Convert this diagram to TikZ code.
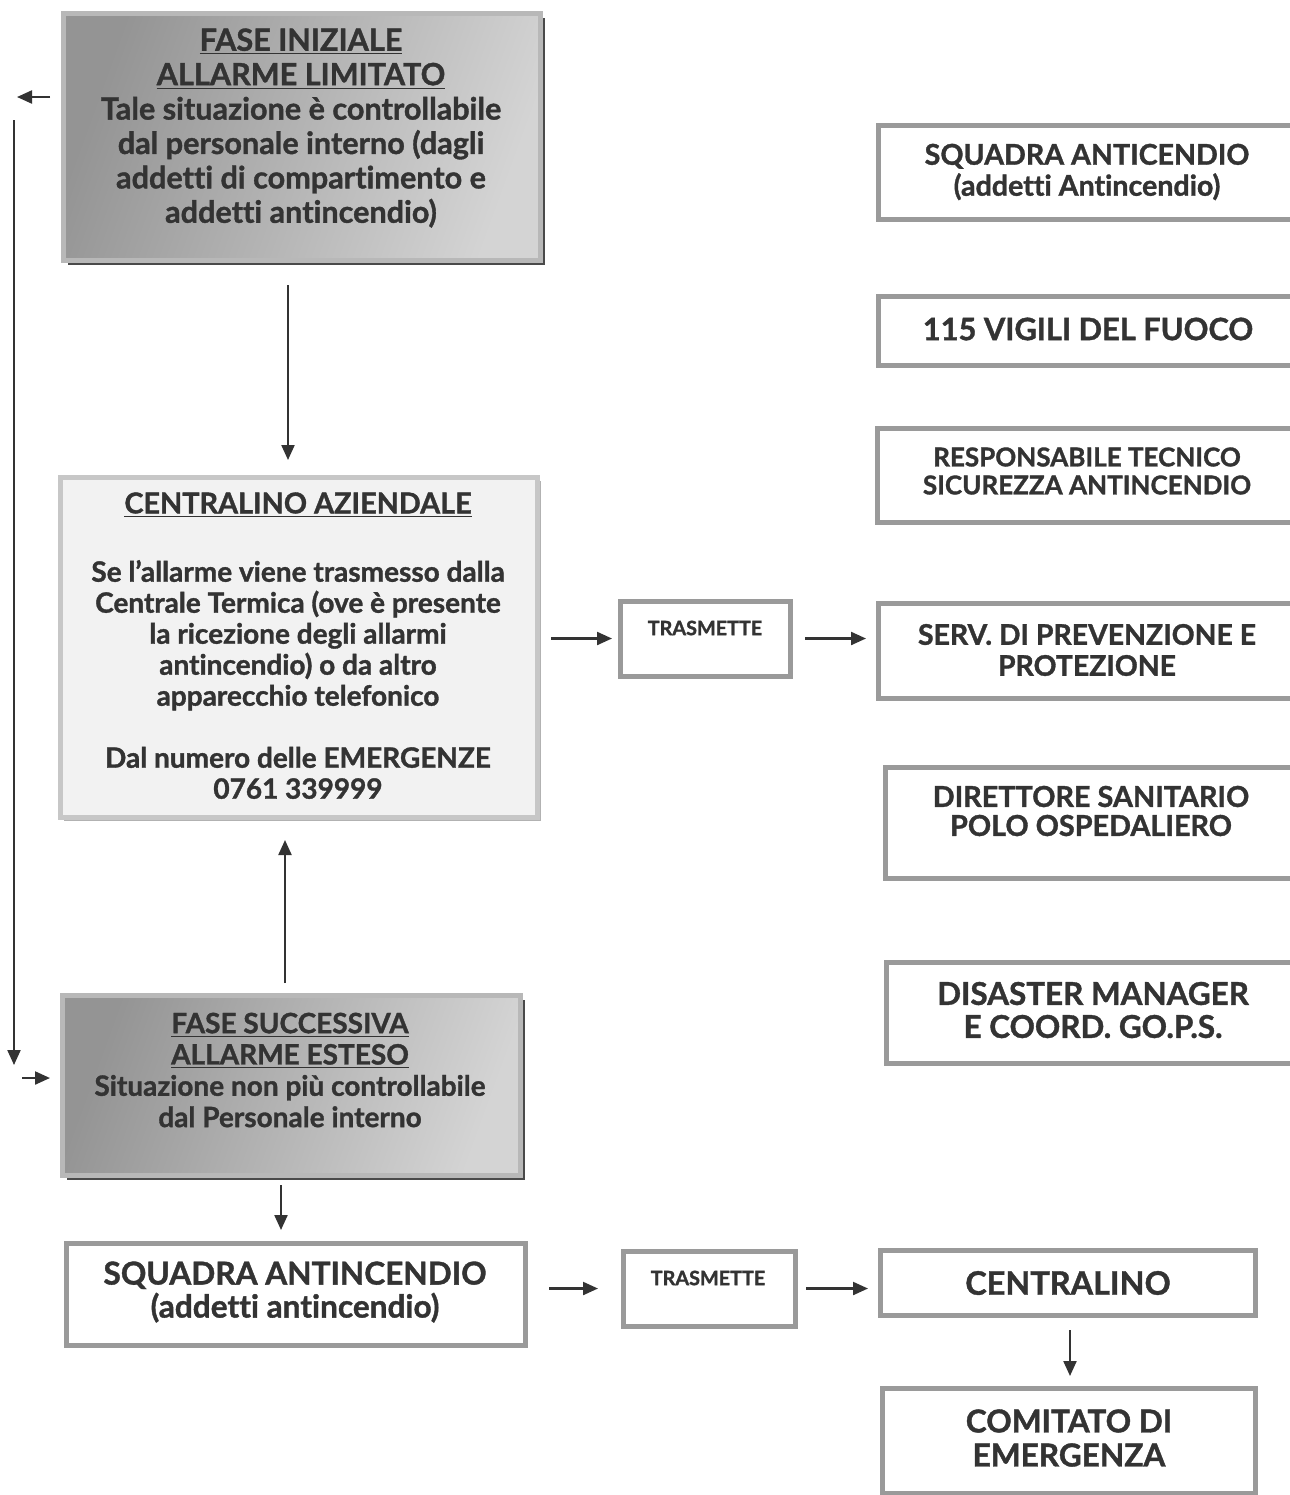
\documentclass[tikz,border=0pt]{standalone}
\usepackage{fontspec}
\setmainfont{Lato}[Ligatures={NoCommon,NoRequired,NoContextual}, BoldFeatures={FakeBold=1.2}]
\usetikzlibrary{arrows.meta,fit,shadows}
\definecolor{txt}{HTML}{333333}
\definecolor{bord}{HTML}{9A9A9A}
\definecolor{shad}{HTML}{4A4A4A}
\tikzset{
  boxbase/.style={inner sep=0pt, outer sep=0pt, line width=2.5pt, draw=bord},
  phase/.style={boxbase, draw=black!28, left color=black!42, right color=black!17, shading angle=70,
     general shadow={fill=shad, shadow xshift=2.4pt, shadow yshift=-2.4pt}},
  lightbox/.style={boxbase, draw=black!22, fill=black!5,
     general shadow={fill=black!30, shadow xshift=2.2pt, shadow yshift=-2.2pt}},
  plainbox/.style={boxbase, fill=white},
  lbl/.style={text=txt, align=center, inner sep=0pt, font=\bfseries},
  arr/.style={draw=txt, line width=1.1pt, -{Triangle[length=7.5pt,width=6.5pt]}},
}
\begin{document}
\begin{tikzpicture}[x=0.5pt,y=-0.5pt]
\clip (0,0) rectangle (1290,1495);
\fill[white] (0,0) rectangle (1290,1495);

% left column
\node[phase, fit={(63,13)(540,260)}] (b1) {};
\node[lbl, font=\bfseries\fontsize{15.3}{17.2}\selectfont] (t1) at (301,128)
  {\underline{FASE INIZIALE}\\\underline{ALLARME LIMITATO}\\Tale situazione è controllabile\\dal personale interno (dagli\\addetti di compartimento e\\addetti antincendio)};

\node[lightbox, fit={(60,477)(537,817)}] (b2) {};
\node[lbl, font=\bfseries\fontsize{14.4}{15.5}\selectfont] (t2a) at (298,505) {\underline{CENTRALINO AZIENDALE}};
\node[lbl, font=\bfseries\fontsize{14}{15.5}\selectfont] (t2b) at (298,679.5)
  {Se l’allarme viene trasmesso dalla\\Centrale Termica (ove è presente\\la ricezione degli allarmi\\antincendio) o da altro\\apparecchio telefonico\\[15.5pt]Dal numero delle EMERGENZE\\0761 339999};

\node[phase, fit={(62,995)(520,1175)}] (b3) {};
\node[lbl, font=\bfseries\fontsize{14}{15.65}\selectfont] (t3) at (290,1070)
  {\underline{FASE SUCCESSIVA}\\\underline{ALLARME ESTESO}\\Situazione non più controllabile\\dal Personale interno};

\node[plainbox, fit={(66,1243)(525,1345)}] (b4) {};
\node[lbl, font=\bfseries\fontsize{15.8}{16.5}\selectfont] (t4) at (295,1292)
  {SQUADRA ANTINCENDIO\\(addetti antincendio)};

% middle
\node[plainbox, fit={(620,601)(790,676)}] (tr1) {};
\node[lbl, font=\bfseries\fontsize{9.9}{11}\selectfont] (tt1) at (705,628) {TRASMETTE};
\node[plainbox, fit={(623,1251)(795,1326)}] (tr2) {};
\node[lbl, font=\bfseries\fontsize{9.9}{11}\selectfont] (tt2) at (708,1278) {TRASMETTE};

% bottom right
\node[plainbox, fit={(880,1250)(1255,1315)}] (cen) {};
\node[lbl, font=\bfseries\fontsize{16.2}{17}\selectfont] (tcen) at (1068,1283) {CENTRALINO};
\node[plainbox, fit={(882,1388)(1255,1493)}] (com) {};
\node[lbl, font=\bfseries\fontsize{15.8}{17}\selectfont] (tcom) at (1069,1438) {COMITATO DI\\EMERGENZA};

% right column
\node[plainbox, fit={(878,125)(1300,219)}] (r1) {};
\node[lbl, font=\bfseries\fontsize{14.3}{15.5}\selectfont] (tr1t) at (1087,172) {SQUADRA ANTICENDIO\\(addetti Antincendio)};
\node[plainbox, fit={(878,296)(1300,365)}] (r2) {};
\node[lbl, font=\bfseries\fontsize{15.4}{15.5}\selectfont] (tr2t) at (1088,329) {115 VIGILI DEL FUOCO};
\node[plainbox, fit={(877,428)(1300,522)}] (r3) {};
\node[lbl, font=\bfseries\fontsize{13}{14}\selectfont] (tr3t) at (1087,471) {RESPONSABILE TECNICO\\SICUREZZA ANTINCENDIO};
\node[plainbox, fit={(878,603)(1300,698)}] (r4) {};
\node[lbl, font=\bfseries\fontsize{14.2}{15.5}\selectfont] (tr4t) at (1087,650) {SERV. DI PREVENZIONE E\\PROTEZIONE};
\node[plainbox, fit={(885,767)(1300,878)}] (r5) {};
\node[lbl, font=\bfseries\fontsize{14.4}{14.5}\selectfont] (tr5t) at (1091,811) {DIRETTORE SANITARIO\\POLO OSPEDALIERO};
\node[plainbox, fit={(886,962)(1300,1063)}] (r6) {};
\node[lbl, font=\bfseries\fontsize{15.7}{16.5}\selectfont] (tr6t) at (1093,1010) {DISASTER MANAGER\\E COORD. GO.P.S.};

% helper coordinates
\coordinate (x288) at (288,0);
\coordinate (x285) at (285,0);
\coordinate (x281) at (281,0);
\coordinate (x1070) at (1070,0);
\coordinate (l1) at (17,97);
\coordinate (v1) at (14,120);
\coordinate (v2) at (14,1065);
\coordinate (rr) at (22,1078);

% connectors
\draw[arr, shorten <=12.5pt, shorten >=8.5pt] (x288 |- b1.south) -- (x288 |- b2.north);
\draw[arr, shorten <=6pt, shorten >=11.5pt] (x285 |- b3.north) -- (x285 |- b2.south);
\draw[arr, shorten <=5pt, shorten >=6.5pt] (x281 |- b3.south) -- (x281 |- b4.north);
\draw[arr, shorten <=7pt, shorten >=4pt] (b2.east |- tr1.west) -- (tr1.west);
\draw[arr, shorten <=7.5pt, shorten >=6pt] (tr1.east) -- (tr1.east -| r4.west);
\draw[arr, shorten <=12pt, shorten >=12.5pt] (b4.east |- tr2.west) -- (tr2.west);
\draw[arr, shorten <=5.5pt, shorten >=6pt] (tr2.east) -- (tr2.east -| cen.west);
\draw[arr, shorten <=7.5pt, shorten >=6pt] (x1070 |- cen.south) -- (x1070 |- com.north);
\draw[arr, shorten <=6.5pt] (b1.west |- l1) -- (l1);
\draw[arr] (v1) -- (v2);
\draw[arr, shorten >=6pt] (rr) -- (rr -| b3.west);
\end{tikzpicture}
\end{document}
